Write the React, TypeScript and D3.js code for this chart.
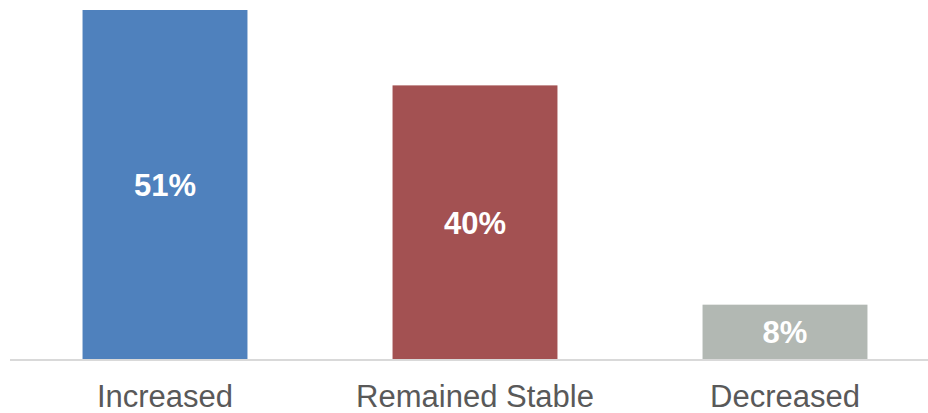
import React from "react";
import * as d3 from "d3";

const categories = ["Increased", "Remained Stable", "Decreased"];
const values = [51, 40, 8];
const colors = ["#4F81BD", "#A35152", "#B2B8B3"];

const W = 928;
const H = 413;
const baseY = 359.5;

export default function App() {
  const x = d3.scaleBand<string>().domain(categories).range([10, 940]).paddingInner(0.468).paddingOuter(0.234);
  const y = d3.scaleLinear().domain([0, 51]).range([baseY, 10]);
  return (
    <svg width={W} height={H} style={{ position: "fixed", left: 0, top: 0, background: "#fff" }}
      fontFamily="'Liberation Sans', Arial, sans-serif">
      {categories.map((c, i) => {
        const x0 = x(c)!;
        const y0 = y(values[i]);
        return (
          <g key={c}>
            <rect x={x0} y={y0} width={x.bandwidth()} height={baseY - y0} fill={colors[i]} />
            <text x={x0 + x.bandwidth() / 2} y={(y0 + baseY) / 2} dy="0.36em" textAnchor="middle"
              fill="#fff" fontWeight="bold" fontSize={31}>{values[i]}%</text>
            <text x={x0 + x.bandwidth() / 2} y={406.5} textAnchor="middle" fill="#595959" fontSize={31}>{c}</text>
          </g>
        );
      })}
      <line x1={10} x2={928} y1={baseY + 0.5} y2={baseY + 0.5} stroke="#D9D9D9" strokeWidth={2} />
    </svg>
  );
}
